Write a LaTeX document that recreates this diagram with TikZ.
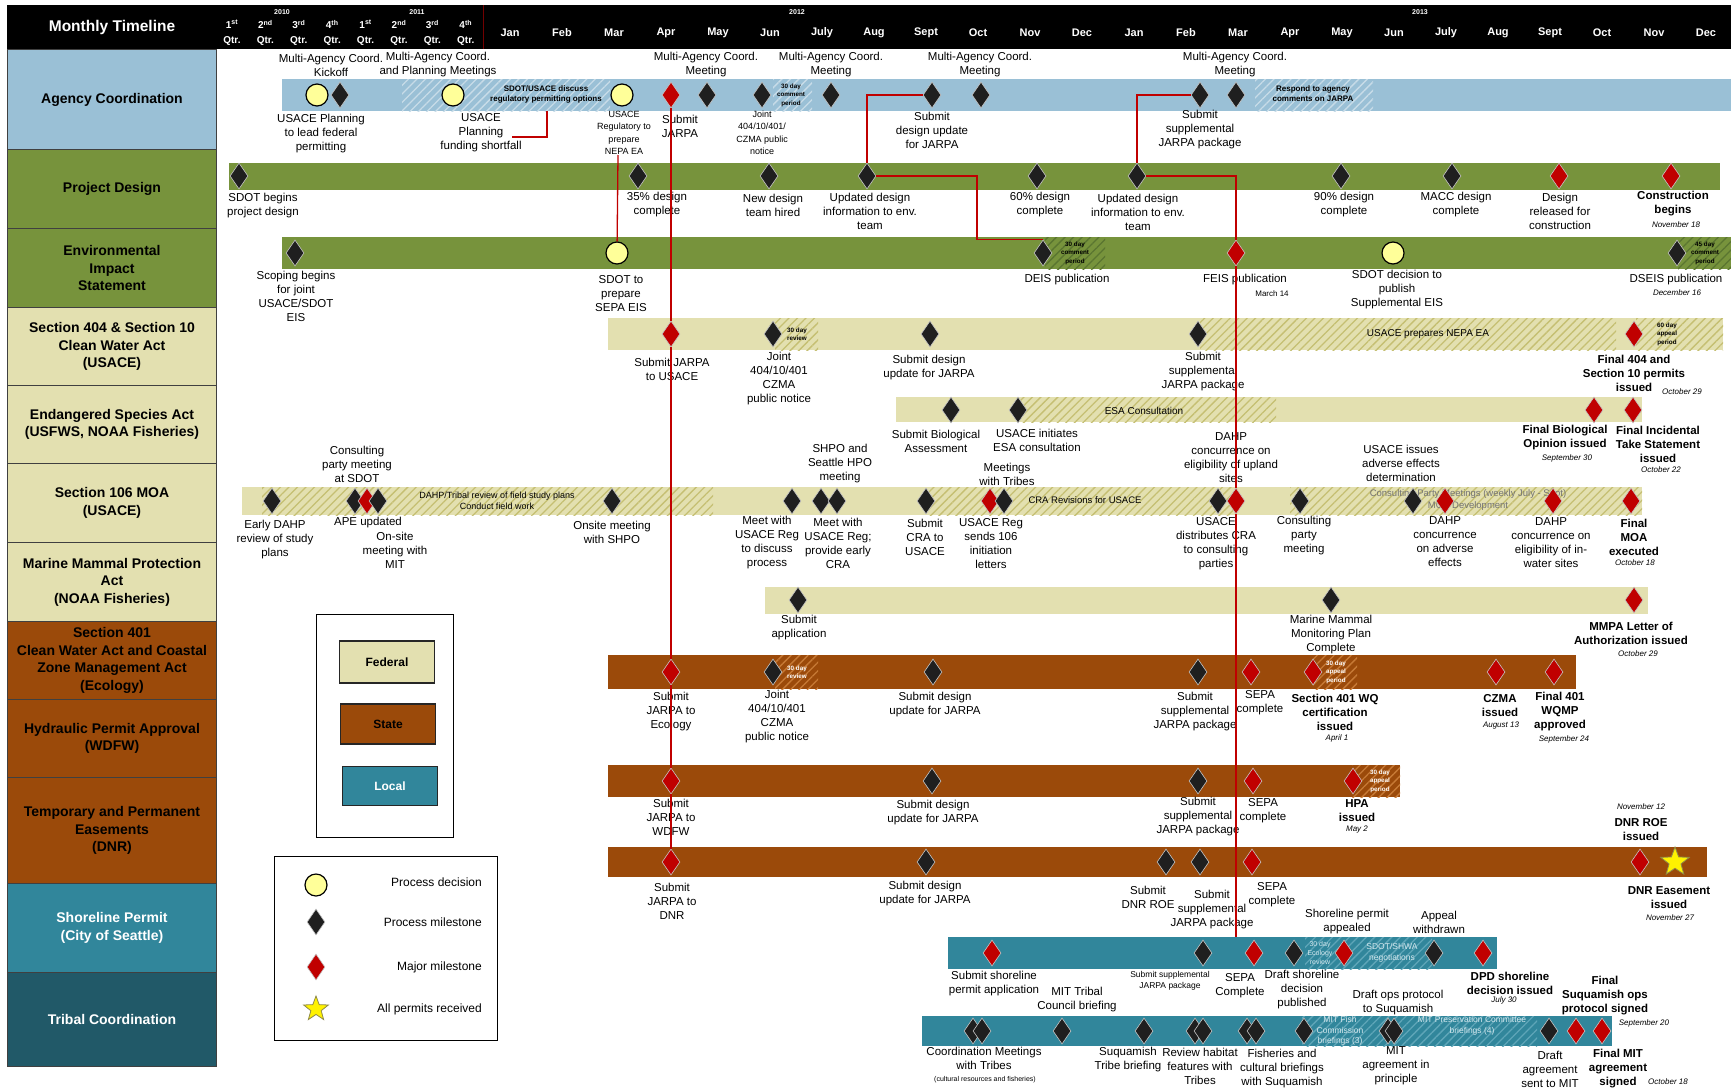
\documentclass[tikz,border=0pt]{standalone}
\usepackage{fontspec}
\setmainfont{Liberation Sans}
\usetikzlibrary{shapes.geometric,patterns.meta}
\definecolor{cblu}{HTML}{9AC0D6}
\definecolor{cgrn}{HTML}{77933C}
\definecolor{ckha}{HTML}{E3E0B0}
\definecolor{cbrn}{HTML}{9B4A0A}
\definecolor{ctea}{HTML}{31869B}
\definecolor{cdte}{HTML}{215968}
\definecolor{mred}{HTML}{C00000}
\definecolor{mblk}{HTML}{1F1F1F}
\definecolor{pyel}{HTML}{FFFF99}
\definecolor{hblu}{HTML}{C8DCE8}
\definecolor{hgrn}{HTML}{5A7530}
\definecolor{hkha}{HTML}{C5BF72}
\definecolor{hbrn}{HTML}{C77A36}
\definecolor{htea}{HTML}{5FA6B8}
\definecolor{tlig}{HTML}{D5E8EE}
\begin{document}
\begin{tikzpicture}[x=1pt,y=-1pt,
pm/.style={diamond,fill=mblk,draw=gray!45,line width=0.6pt,minimum width=18pt,minimum height=26pt,inner sep=0pt},
mm/.style={pm,fill=mred},
dc/.style={circle,fill=pyel,draw=black,line width=1.2pt,minimum size=22pt,inner sep=0pt},
ap/.style={star,star points=5,star point ratio=2.4,fill=yellow,draw=black!50!yellow,line width=0.8pt,minimum size=30pt,inner sep=0pt},
lb/.style={align=center,inner sep=0pt,font=\fontsize{11.5}{14}\selectfont},
ls/.style={align=center,inner sep=0pt,font=\fontsize{9}{12.5}\selectfont},
lbb/.style={align=center,inner sep=0pt,font=\bfseries\fontsize{11.5}{14}\selectfont},
dt/.style={inner sep=0pt,font=\itshape\fontsize{8}{10}\selectfont},
ht/.style={align=center,inner sep=0pt,font=\bfseries\fontsize{6.3}{8.5}\selectfont},
hb8/.style={align=center,inner sep=0pt,font=\bfseries\fontsize{8}{10}\selectfont},
hr/.style={align=center,inner sep=0pt,font=\fontsize{9.5}{11.5}\selectfont},
hb/.style={pattern={Lines[angle=45,distance=6pt,line width=1.3pt]}},
rw/.style={draw=black!75,line width=1pt,anchor=north west,minimum width=209pt,align=center,inner sep=1pt,font=\bfseries\fontsize{14}{17.5}\selectfont},
hd/.style={text=white,align=center,inner sep=0pt,font=\bfseries\fontsize{11}{15}\selectfont},
lgb/.style={draw=black!85,line width=1.2pt,minimum width=95pt,font=\bfseries\fontsize{12}{14}\selectfont},
rl/.style={draw=mred,line width=1.3pt}]
\useasboundingbox (0,0) rectangle (1731,1090);
% header
\fill[black] (7,5) rectangle (1731,49);
\draw[mred!60!black,line width=0.8pt] (483,5) -- (483,49);
\node[hd,font=\bfseries\fontsize{15.5}{18}\selectfont] (ttl) at (112,27) {Monthly Timeline};
\foreach \x/\yr in {282/2010,417/2011,797/2012,1420/2013} \node[hd,font=\bfseries\fontsize{7}{8}\selectfont] (y\yr) at (\x,12) {\yr};
\foreach \q/\s [count=\i from 0] in {1/st,2/nd,3/rd,4/th,1/st,2/nd,3/rd,4/th} \node[hd,font=\bfseries\fontsize{10}{15}\selectfont] (q\i) at (232+33.4*\i,33) {\q\textsuperscript{\s}\\Qtr.};
\foreach \m [count=\i from 0] in {Jan,Feb,Mar,Apr,May,Jun,July,Aug,Sept,Oct,Nov,Dec,Jan,Feb,Mar,Apr,May,Jun,July,Aug,Sept,Oct,Nov,Dec} \node[hd] (m\i) at (510+52*\i,33) {\m};
% row titles
\node[rw,fill=cblu,minimum height=100pt] (r1) at (7,49) {Agency Coordination};
\node[rw,fill=cgrn,minimum height=79pt] (r2) at (7,149) {Project Design};
\node[rw,fill=cgrn,minimum height=79pt] (r3) at (7,228) {Environmental\\Impact\\Statement};
\node[rw,fill=ckha,minimum height=78pt] (r4) at (7,307) {Section 404 \& Section 10\\Clean Water Act\\(USACE)};
\node[rw,fill=ckha,minimum height=78pt] (r5) at (7,385) {Endangered Species Act\\(USFWS, NOAA Fisheries)};
\node[rw,fill=ckha,minimum height=79pt] (r6) at (7,463) {Section 106 MOA\\(USACE)};
\node[rw,fill=ckha,minimum height=79pt] (r7) at (7,542) {Marine Mammal Protection\\Act\\(NOAA Fisheries)};
\node[rw,fill=cbrn,minimum height=78pt] (r8) at (7,621) {Section 401\\Clean Water Act and Coastal\\Zone Management Act\\(Ecology)};
\node[rw,fill=cbrn,minimum height=78pt] (r9) at (7,699) {Hydraulic Permit Approval\\(WDFW)};
\node[rw,fill=cbrn,minimum height=106pt] (r10) at (7,777) {Temporary and Permanent\\Easements\\(DNR)};
\node[rw,fill=ctea,minimum height=89pt,text=white] (r11) at (7,883) {Shoreline Permit\\(City of Seattle)};
\node[rw,fill=cdte,minimum height=94pt,text=white] (r12) at (7,972) {Tribal Coordination};
% bars
\fill[cblu] (282,79) rectangle (1731,111);
\fill[cgrn] (229,163) rectangle (1720,190);
\fill[cgrn] (282,237) rectangle (1731,269);
\fill[ckha] (608,318) rectangle (1723,350);
\fill[ckha] (896,397) rectangle (1642,422);
\fill[ckha] (242,487) rectangle (1642,515);
\fill[ckha] (765,587) rectangle (1648,614);
\fill[cbrn] (608,655) rectangle (1576,689);
\fill[cbrn] (608,765) rectangle (1400,797);
\fill[cbrn] (608,847) rectangle (1707,877);
\fill[ctea] (948,937) rectangle (1497,969);
\fill[ctea] (922,1016) rectangle (1612,1046);
\foreach \a/\b in {402/610,773/812,1255/1373} \fill[hb,pattern color=hblu] (\a,79) rectangle (\b,111);
\foreach \a/\b in {1045/1105,1678/1731} \fill[hb,pattern color=hgrn] (\a,237) rectangle (\b,269);
\foreach \a/\b in {775/818,1200/1616,1636/1723} \fill[hb,pattern color=hkha] (\a,318) rectangle (\b,350);
\fill[hb,pattern color=hkha] (1020,397) rectangle (1276,422);
\foreach \a/\b in {262/713,928/1236,1290/1642} \fill[hb,pattern color=hkha] (\a,487) rectangle (\b,515);
\foreach \a/\b in {775/818,1313/1357} \fill[hb,pattern color=hbrn] (\a,655) rectangle (\b,689);
\fill[hb,pattern color=hbrn] (1352,765) rectangle (1400,797);
\fill[hb,pattern color=htea] (1305,937) rectangle (1432,969);
\fill[hb,pattern color=htea] (1302,1016) rectangle (1537,1046);
% texts in bars
\node[hb8] (t1) at (546,94) {SDOT/USACE discuss\\regulatory permitting options};
\node[ht] (t2) at (791,95) {30 day\\comment\\period};
\node[hb8] (t3) at (1313,94) {Respond to agency\\comments on JARPA};
\node[ht] (t4) at (1075,253) {30 day\\comment\\period};
\node[ht] (t5) at (1705,253) {45 day\\comment\\period};
\node[hr,font=\fontsize{10}{12}\selectfont] (t6) at (1428,334) {USACE prepares NEPA EA};
\node[ht] (t7) at (797,334) {30 day\\review};
\node[ht] (t8) at (1667,334) {60 day\\appeal\\period};
\node[hr,font=\fontsize{10}{12}\selectfont] (t9) at (1144,411) {ESA Consultation};
\node[hr,font=\fontsize{9}{11}\selectfont] (t10) at (497,501) {DAHP/Tribal review of field study plans\\Conduct field work};
\node[hr] (t11) at (1085,500) {CRA Revisions for USACE};
\node[hr,text=black!55] (t12) at (1468,500) {Consulting Party Meetings (weekly July - Sept)\\MOA Development};
\node[ht,text=white] (t13) at (797,672) {30 day\\review};
\node[ht,text=white] (t14) at (1336,672) {30 day\\appeal\\period};
\node[ht,text=white] (t15) at (1380,781) {30 day\\appeal\\period};
\node[hr,text=tlig,font=\fontsize{7}{9}\selectfont] (t16) at (1320,953) {30 day\\Ecology\\review};
\node[hr,text=tlig,font=\fontsize{8.5}{11}\selectfont] (t17) at (1392,953) {SDOT/SHWA\\negotiations};
\node[hr,text=tlig,font=\fontsize{8.5}{10.5}\selectfont] (t18) at (1340,1031) {MIT Fish\\Commission\\briefings (3)};
\node[hr,text=tlig,font=\fontsize{8.5}{11}\selectfont] (t19) at (1472,1026) {MIT Preservation Committee\\briefings (4)};
% milestones
\foreach \s/\x [count=\i] in {dc/317,pm/340,dc/453,dc/622,mm/671,pm/707,pm/762,pm/831,pm/932,pm/981,pm/1200,pm/1236} \node[\s] (ag\i) at (\x,95) {};
\foreach \s/\x [count=\i] in {pm/239,pm/638,pm/769,pm/867,pm/1037,pm/1137,pm/1341,pm/1452,mm/1559,mm/1671} \node[\s] (pj\i) at (\x,176) {};
\foreach \s/\x [count=\i] in {pm/295,dc/617,pm/1043,mm/1236,dc/1393,pm/1677} \node[\s] (ei\i) at (\x,253) {};
\foreach \s/\x [count=\i] in {mm/671,pm/773,pm/930,pm/1198,mm/1634} \node[\s] (cw\i) at (\x,334) {};
\foreach \s/\x [count=\i] in {pm/951,pm/1018,mm/1594,mm/1633} \node[\s] (es\i) at (\x,410) {};
\foreach \s/\x [count=\i] in {pm/272,pm/355,mm/367,pm/378,pm/612,pm/792,pm/821,pm/837,pm/926,mm/990,pm/1004,pm/1218,mm/1236,pm/1300,pm/1413,mm/1445,mm/1553,mm/1631} \node[\s] (hi\i) at (\x,501) {};
\foreach \s/\x [count=\i] in {pm/798,pm/1331,mm/1634} \node[\s] (mp\i) at (\x,600) {};
\foreach \s/\x [count=\i] in {mm/671,pm/773,pm/933,pm/1198,mm/1251,mm/1313,mm/1496,mm/1554} \node[\s] (wq\i) at (\x,672) {};
\foreach \s/\x [count=\i] in {mm/671,pm/932,pm/1198,mm/1253,mm/1353} \node[\s] (hp\i) at (\x,781) {};
\foreach \s/\x [count=\i] in {mm/671,pm/926,pm/1166,pm/1200,mm/1252,mm/1640,ap/1675} \node[\s] (dn\i) at (\x,862) {};
\foreach \s/\x [count=\i] in {mm/992,pm/1203,mm/1254,pm/1294,mm/1344,pm/1434,mm/1483} \node[\s] (sh\i) at (\x,953) {};
\foreach \s/\x [count=\i] in {pm/973,pm/982,pm/1062,pm/1144,pm/1195,pm/1203,pm/1247,pm/1256,pm/1304,pm/1388,pm/1394,pm/1549,mm/1576,mm/1602} \node[\s] (tr\i) at (\x,1031) {};
% labels
\foreach \x/\y/\t [count=\i] in {331/65/{Multi-Agency Coord.\\Kickoff},438/65/{Multi-Agency Coord.\\and Planning Meetings},706/65/{Multi-Agency Coord.\\Meeting},831/65/{Multi-Agency Coord.\\Meeting},980/65/{Multi-Agency Coord.\\Meeting},1235/65/{Multi-Agency Coord.\\Meeting},321/134/{USACE Planning\\to lead federal\\permitting},481/133/{USACE\\Planning\\funding shortfall},680/126/{Submit\\JARPA},932/130/{Submit\\design update\\for JARPA},1200/130/{Submit\\supplemental\\JARPA package}} \node[lb] (agl\i) at (\x,\y) {\t};
\node[ls] (agl12) at (624,133) {USACE\\Regulatory to\\prepare\\NEPA EA};
\node[ls] (agl13) at (762,133) {Joint\\404/10/401/\\CZMA public\\notice};
\foreach \x/\y/\t [count=\i] in {263/206/{SDOT begins\\project design},657/205/{35\% design\\complete},773/205/{New design\\team hired},870/211/{Updated design\\information to env.\\team},1040/205/{60\% design\\complete},1138/212/{Updated design\\information to env.\\team},1344/205/{90\% design\\complete},1456/205/{MACC design\\complete},1560/211/{Design\\released for\\construction}} \node[lb] (pjl\i) at (\x,\y) {\t};
\node[lbb] (pjl10) at (1673,204) {Construction\\begins};
\node[dt] (pjd) at (1676,225) {November 18};
\foreach \x/\y/\t [count=\i] in {296/296/{Scoping begins\\for joint\\USACE/SDOT\\EIS},621/294/{SDOT to\\prepare\\SEPA EIS},1067/280/{DEIS publication},1245/280/{FEIS publication},1397/290/{SDOT decision to\\publish\\Supplemental EIS},1676/280/{DSEIS publication}} \node[lb] (eil\i) at (\x,\y) {\t};
\node[dt,font=\fontsize{8}{10}\selectfont] (eid1) at (1272,294) {March 14};
\node[dt] (eid2) at (1677,293) {December 16};
\foreach \x/\y/\t [count=\i] in {672/369/{Submit JARPA\\to USACE},779/379/{Joint\\404/10/401\\CZMA\\public notice},929/368/{Submit design\\update for JARPA},1203/372/{Submit\\supplemental\\JARPA package}} \node[lb] (cwl\i) at (\x,\y) {\t};
\node[lbb] (cwl5) at (1634,373) {Final 404 and\\Section 10 permits\\issued};
\node[dt] (cwd) at (1682,392) {October 29};
\foreach \x/\y/\t [count=\i] in {936/441/{Submit Biological\\Assessment},1037/440/{USACE initiates\\ESA consultation}} \node[lb] (esl\i) at (\x,\y) {\t};
\node[lbb] (esl3) at (1565,438) {Final Biological\\Opinion issued};
\node[lbb] (esl4) at (1658,444) {Final Incidental\\Take Statement\\issued};
\node[dt] (esd1) at (1567,458) {September 30};
\node[dt] (esd2) at (1661,470) {October 22};
\foreach \x/\y/\t [count=\i] in {275/540/{Early DAHP\\review of study\\plans},357/464/{Consulting\\party meeting\\at SDOT},368/523/{APE updated},395/550/{On-site\\meeting with\\MIT},612/532/{Onsite meeting\\with SHPO},767/543/{Meet with\\USACE Reg\\to discuss\\process},840/464/{SHPO and\\Seattle HPO\\meeting},838/543/{Meet with\\USACE Reg;\\provide early\\CRA},925/537/{Submit\\CRA to\\USACE},1007/474/{Meetings\\with Tribes},991/544/{USACE Reg\\sends 106\\initiation\\letters},1231/458/{DAHP\\concurrence on\\eligibility of upland\\sites},1216/544/{USACE\\distributes CRA\\to consulting\\parties},1304/536/{Consulting\\party\\meeting},1401/463/{USACE issues\\adverse effects\\determination},1445/542/{DAHP\\concurrence\\on adverse\\effects},1551/543/{DAHP\\concurrence on\\eligibility of in-\\water sites}} \node[lb] (hil\i) at (\x,\y) {\t};
\node[lbb] (hil18) at (1634,537) {Final\\MOA\\executed};
\node[dt] (hid) at (1635,563) {October 18};
\foreach \x/\y/\t [count=\i] in {799/628/{Submit\\application},1331/635/{Marine Mammal\\Monitoring Plan\\Complete}} \node[lb] (mpl\i) at (\x,\y) {\t};
\node[lbb] (mpl3) at (1631,633) {MMPA Letter of\\Authorization issued};
\node[dt] (mpd) at (1638,654) {October 29};
\foreach \x/\y/\t [count=\i] in {671/712/{Submit\\JARPA to\\Ecology},777/717/{Joint\\404/10/401\\CZMA\\public notice},935/705/{Submit design\\update for JARPA},1195/712/{Submit\\supplemental\\JARPA package},1260/703/{SEPA\\complete}} \node[lb] (wql\i) at (\x,\y) {\t};
\foreach \x/\y/\t [count=\i from 6] in {1335/712/{Section 401 WQ\\certification\\issued},1500/706/{CZMA\\issued},1560/712/{Final 401\\WQMP\\approved}} \node[lbb] (wql\i) at (\x,\y) {\t};
\foreach \x/\y/\t [count=\i] in {1337/738/{April 1},1501/726/{August 13},1564/739/{September 24}} \node[dt] (wqd\i) at (\x,\y) {\t};
\foreach \x/\y/\t [count=\i] in {671/817/{Submit\\JARPA to\\WDFW},933/813/{Submit design\\update for JARPA},1198/817/{Submit\\supplemental\\JARPA package},1263/811/{SEPA\\complete}} \node[lb] (hpl\i) at (\x,\y) {\t};
\node[lbb] (hpl5) at (1357,811) {HPA\\issued};
\node[dt] (hpd) at (1357,830) {May 2};
\foreach \x/\y/\t [count=\i] in {672/901/{Submit\\JARPA to\\DNR},925/894/{Submit design\\update for JARPA},1148/897/{Submit\\DNR ROE},1212/910/{Submit\\supplemental\\JARPA package},1272/895/{SEPA\\complete}} \node[lb] (dnl\i) at (\x,\y) {\t};
\node[lbb] (dnl6) at (1641,830) {DNR ROE\\issued};
\node[lbb] (dnl7) at (1669,898) {DNR Easement\\issued};
\node[dt] (dnd1) at (1641,807) {November 12};
\node[dt] (dnd2) at (1670,918) {November 27};
\foreach \x/\y/\t [count=\i] in {994/984/{Submit shoreline\\permit application},1240/986/{SEPA\\Complete},1302/990/{Draft shoreline\\decision\\published},1347/922/{Shoreline permit\\appealed},1439/922/{Appeal\\withdrawn}} \node[lb] (shl\i) at (\x,\y) {\t};
\node[ls,font=\fontsize{8.5}{11.5}\selectfont] (shl6) at (1170,981) {Submit supplemental\\JARPA package};
\node[lbb] (shl7) at (1510,983) {DPD shoreline\\decision issued};
\node[dt] (shd) at (1504,1000) {July 30};
\foreach \x/\y/\t [count=\i] in {984/1058/{Coordination Meetings\\with Tribes},1077/1000/{MIT Tribal\\Council briefing},1128/1060/{Suquamish\\Tribe briefing},1200/1066/{Review habitat\\features with\\Tribes},1282/1069/{Fisheries and\\cultural briefings\\with Suquamish},1398/1003/{Draft ops protocol\\to Suquamish},1396/1066/{MIT\\agreement in\\principle},1550/1069/{Draft\\agreement\\sent to MIT}} \node[lb] (trl\i) at (\x,\y) {\t};
\node[ls,font=\fontsize{7}{9}\selectfont] (trl9) at (985,1080) {(cultural resources and fisheries)};
\node[lbb] (trl10) at (1605,996) {Final\\Suquamish ops\\protocol signed};
\node[lbb] (trl11) at (1618,1069) {Final MIT\\agreement\\signed};
\node[dt] (trd1) at (1644,1023) {September 20};
\node[dt] (trd2) at (1668,1082) {October 18};
% connectors
\coordinate (fs) at (512,137);
\coordinate (hs) at (547,111);
\coordinate (nep) at (618,155);
\coordinate (shc) at (1236,937);
\draw[rl] (fs) -| (hs);
\draw[rl] (nep) -- (ei2);
\draw[rl] (ag5) -- (cw1) -- (wq1) -- (hp1) -- (dn1);
\draw[rl] (ag9) -| (pj4);
\draw[rl] (pj4) -- ++(110,0) |- (ei3.north);
\draw[rl] (ag11) -| (pj6);
\draw[rl] (pj6) -| (ei4);
\draw[rl] (ei4) -- (hi13) -- (shc);
% legend
\node[draw,line width=1.3pt,minimum width=137pt,minimum height=223pt,anchor=north west] (lg1) at (316,614) {};
\node[lgb,fill=ckha,minimum height=42pt] (lgf) at (387,662) {Federal};
\node[lgb,fill=cbrn,minimum height=40pt] (lgs) at (388,724) {State};
\node[lgb,fill=ctea,minimum height=39pt,text=white] (lgl) at (390,786) {Local};
\node[draw,line width=1.3pt,minimum width=223pt,minimum height=184pt,anchor=north west] (lg2) at (274,856) {};
\node[dc] (lgc) at (316,885) {};
\node[pm] (lgd) at (316,922) {};
\node[mm] (lgr) at (316,967) {};
\node[ap,minimum size=26pt] (lgt) at (316,1009) {};
\foreach \y/\t [count=\i] in {882/Process decision,922/Process milestone,967/Major milestone,1009/All permits received} \node[lb,anchor=east,font=\fontsize{12}{14}\selectfont] (lt\i) at (482,\y) {\t};
\end{tikzpicture}
\end{document}
